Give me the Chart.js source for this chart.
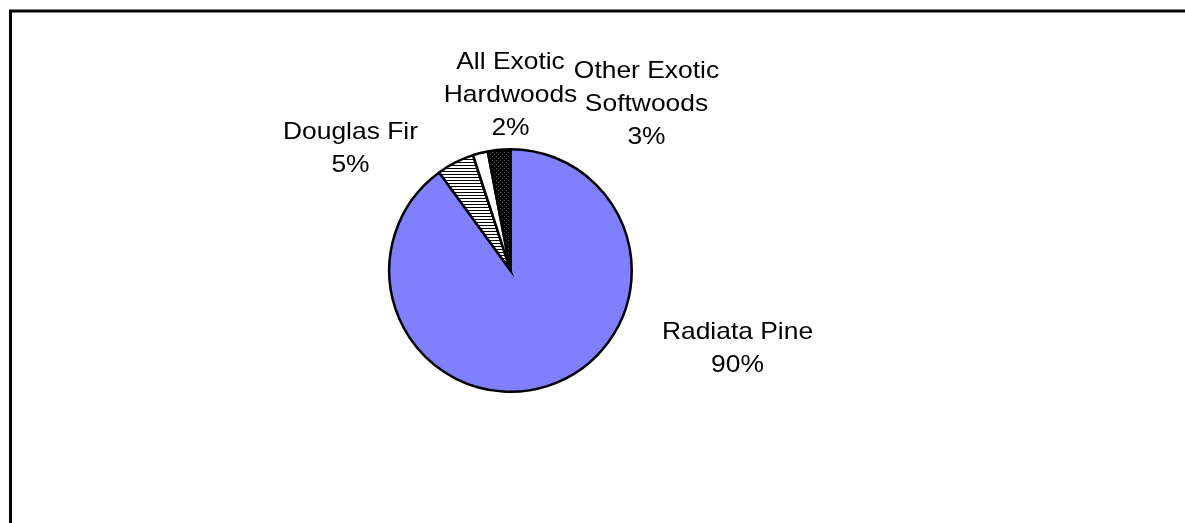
<!DOCTYPE html>
<html>
<head>
<meta charset="utf-8">
<title>Forest species share</title>
<script src="https://cdn.jsdelivr.net/npm/chart.js@4.4.1/dist/chart.umd.min.js"></script>
<style>
  html, body { margin: 0; padding: 0; background: #fff; }
  #wrap { position: relative; width: 1185px; height: 523px; }
</style>
</head>
<body>
<div id="wrap"><canvas id="pie"></canvas></div>
<script>
/* ---------- DATA ---------- */
const species = [["Radiata Pine"], ["Douglas Fir"], ["All Exotic", "Hardwoods"], ["Other Exotic", "Softwoods"]];
const shares = [90, 5, 2, 3];

// where each label block sits, measured from the pie centre (px)
const labelShift = [[227, 76], [-160, -124], [0, -177], [136, -168]];

/* ---------- FILL PATTERNS ---------- */
function hatchPattern() {
  const c = document.createElement("canvas");
  c.width = 6; c.height = 3;
  const g = c.getContext("2d");
  g.fillStyle = "#fff";
  g.fillRect(0, 0, 6, 3);
  g.fillStyle = "#000";
  g.fillRect(0, 0, 6, 1);
  return g.createPattern(c, "repeat");
}

function dotPattern() {
  const c = document.createElement("canvas");
  c.width = 4; c.height = 4;
  const g = c.getContext("2d");
  g.fillStyle = "#000";
  g.fillRect(0, 0, 4, 4);
  g.fillStyle = "#5a5a5a";
  g.fillRect(0, 0, 1, 1);
  g.fillRect(2, 2, 1, 1);
  return g.createPattern(c, "repeat");
}

/* ---------- PLUGINS ---------- */
const frame = {
  id: "frame",
  beforeDraw(chart) {
    const ctx = chart.ctx;
    ctx.save();
    ctx.strokeStyle = "#000";
    ctx.lineWidth = 3;
    ctx.strokeRect(10.5, 11, 1400, 800);
    ctx.restore();
  },
};

const sliceLabels = {
  id: "sliceLabels",
  afterDatasetsDraw(chart) {
    const ctx = chart.ctx;
    const arcs = chart.getDatasetMeta(0).data;
    const total = shares.reduce((a, b) => a + b, 0);
    const lineH = 33, capH = 17;
    ctx.save();
    ctx.fillStyle = "#000";
    ctx.font = "24px 'Liberation Sans', Arial, sans-serif";
    ctx.textAlign = "center";
    ctx.textBaseline = "alphabetic";
    arcs.forEach((arc, i) => {
      const lines = species[i].concat(Math.round((shares[i] / total) * 100) + "%");
      const cx = arc.x + labelShift[i][0];
      const mid = arc.y + labelShift[i][1];
      const blockH = (lines.length - 1) * lineH + capH;
      let y = mid - blockH / 2 + capH;
      lines.forEach((t) => {
        ctx.save();
        ctx.translate(cx, y);
        ctx.scale(1.1, 1);
        ctx.fillText(t, 0, 0);
        ctx.restore();
        y += lineH;
      });
    });
    ctx.restore();
  },
};

/* ---------- CHART ---------- */
new Chart(document.getElementById("pie"), {
  type: "pie",
  data: {
    labels: species.map((s) => s.join(" ")),
    datasets: [
      {
        data: shares,
        backgroundColor: ["#8080ff", hatchPattern(), "#ffffff", dotPattern()],
        borderColor: "#000",
        borderWidth: 2.5,
        borderJoinStyle: "miter",
      },
    ],
  },
  options: {
    responsive: true,
    maintainAspectRatio: false,
    animation: false,
    layout: { padding: { left: 388, right: 552, top: 148, bottom: 130 } },
    plugins: {
      legend: { display: false },
      tooltip: { enabled: false },
    },
  },
  plugins: [frame, sliceLabels],
});
</script>
</body>
</html>
